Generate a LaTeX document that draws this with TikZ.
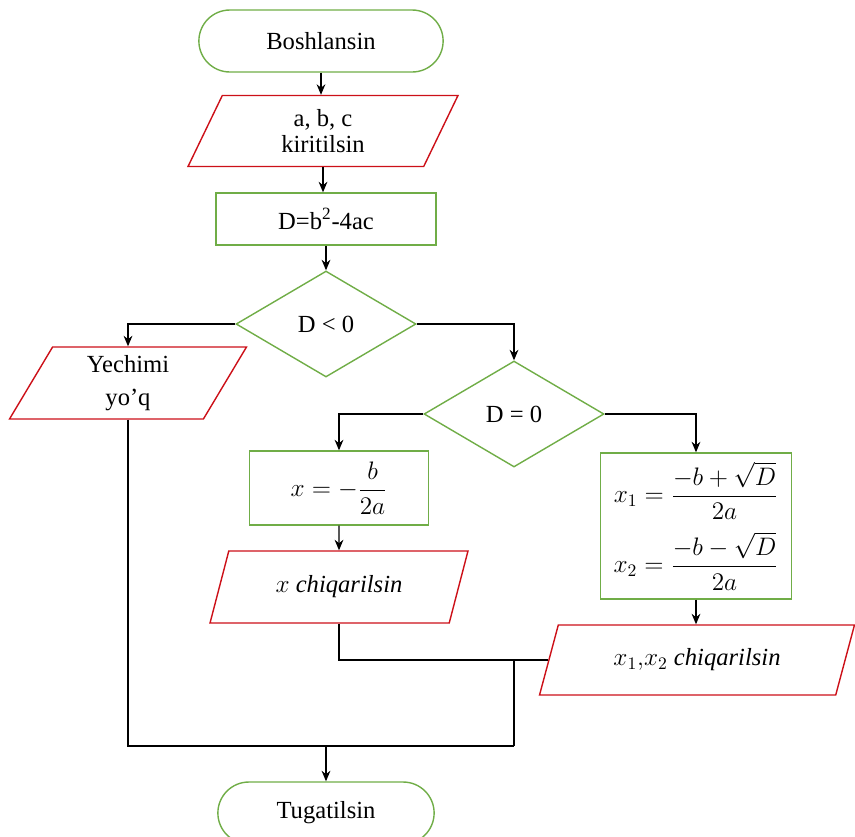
\documentclass[tikz,border=0pt]{standalone}
\usepackage{fontspec}
\setmainfont{Liberation Serif}
\usepackage{amsmath}
\usetikzlibrary{shapes.geometric,shapes.misc,arrows.meta}

\definecolor{boxgreen}{RGB}{112,173,71}
\definecolor{iored}{RGB}{204,16,24}

\tikzset{
  termbox/.style={rounded rectangle, draw=boxgreen, line width=0.8pt, minimum width=5.12cm, minimum height=1.24cm},
  iobox/.style={trapezium, trapezium left angle=54, trapezium right angle=126, trapezium stretches body,
    draw=iored, line width=0.8pt, minimum height=1.42cm, align=center, inner sep=1pt},
  procbox/.style={rectangle, draw=boxgreen, line width=0.8pt, align=center},
  testbox/.style={diamond, draw=boxgreen, line width=0.8pt, minimum width=3.6cm, minimum height=2.12cm, inner sep=0pt},
  flow/.style={line width=0.7pt},
  arr/.style={flow, -{Stealth[length=6pt,width=5pt]}}
}

\begin{document}
\begin{tikzpicture}[x=0.02cm, y=-0.02cm, font=\fontsize{14}{15}\selectfont]
  \useasboundingbox (0,0) rectangle (855,836);

  % Blocks of the flowchart
  \node[termbox] (start) at (321,41) {Boshlansin};
  \node[iobox, minimum width=5.4cm] (input) at (323,131) {a, b, c\\kiritilsin};
  \node[procbox, minimum width=4.4cm, minimum height=1.04cm] (disc) at (326,219) {D=b\textsuperscript{2}-4ac};
  \node[testbox] (neg) at (326,324) {D < 0};
  \node[iobox, minimum width=4.74cm, minimum height=1.44cm] (nosol) at (128,383) {Yechimi\\[4pt]yo’q};
  \node[testbox] (zero) at (514,414) {D = 0};
  \node[procbox, minimum width=3.58cm, minimum height=1.48cm] (oneroot) at (339,488) {$x=-\dfrac{b}{2a}$};
  \node[iobox, minimum width=5.16cm, minimum height=1.44cm] (outone) at (339,587) {$x$ \textit{chiqarilsin}};
  \node[procbox, minimum width=3.82cm, minimum height=2.92cm, inner sep=1pt] (tworoots) at (696,526)
    {$x_1=\dfrac{-b+\sqrt{D}}{2a}$\\[6pt]$x_2=\dfrac{-b-\sqrt{D}}{2a}$};
  \node[iobox, minimum width=6.3cm, minimum height=1.4cm] (outtwo) at (697,660) {$x_1{,}x_2$ \textit{chiqarilsin}};
  \node[termbox, minimum width=4.56cm] (finish) at (326,813) {Tugatilsin};

  % Connectors
  \draw[arr] (start.south) -- (start.south |- input.north);
  \draw[arr] (input.south) -- (input.south |- disc.north);
  \draw[arr] (disc) -- (neg);
  \draw[arr] (neg.west) -| (nosol.north);
  \draw[arr] (neg.east) -| (zero.north);
  \draw[arr] (zero.west) -| (oneroot.north);
  \draw[arr] (zero.east) -| (tworoots.north);
  \draw[arr] (oneroot) -- (outone);
  \draw[arr] (tworoots.south) -- (tworoots.south |- outtwo.north);

  % Joining the branches
  \coordinate (merge) at (514,746);
  \draw[flow] (outone.south) |- (outtwo.west);
  \draw[flow] (merge) -- (merge |- outtwo.west);
  \draw[flow] (nosol.south) |- (merge);
  \draw[arr] (finish.north |- merge) -- (finish.north);
\end{tikzpicture}
\end{document}
